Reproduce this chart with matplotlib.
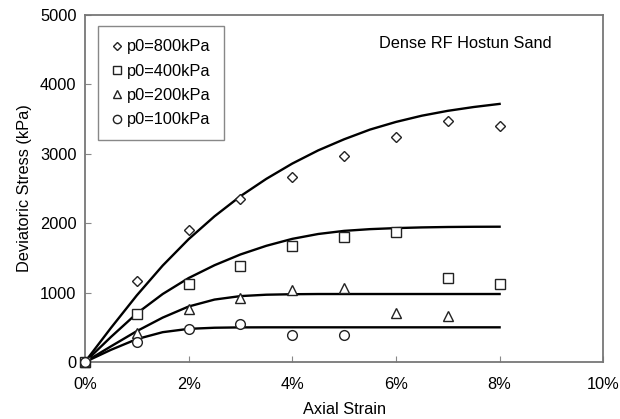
# -------------------------------------------------------------------------------------
# Library
import matplotlib
matplotlib.use('Agg')
import matplotlib.pyplot as plt
from matplotlib.ticker import FuncFormatter
# -------------------------------------------------------------------------------------


# -------------------------------------------------------------------------------------
# Data (axial strain in %, deviatoric stress in kPa)
strain_test = [0, 1, 2, 3, 4, 5, 6, 7, 8]
q_800_test = [0, 1170, 1900, 2350, 2670, 2970, 3250, 3480, 3400]
q_400_test = [0, 690, 1120, 1380, 1675, 1795, 1870, 1205, 1120]
strain_200_test = [0, 1, 2, 3, 4, 5, 6, 7]
q_200_test = [0, 415, 760, 925, 1045, 1060, 710, 665]
strain_100_test = [0, 1, 2, 3, 4, 5]
q_100_test = [0, 285, 475, 545, 390, 390]

strain_model = [0, 0.5, 1, 1.5, 2, 2.5, 3, 3.5, 4, 4.5, 5, 5.5, 6, 6.5, 7, 7.5, 8]
q_800_model = [0, 490, 960, 1390, 1770, 2100, 2390, 2640, 2860, 3050, 3210, 3350,
               3460, 3550, 3620, 3675, 3720]
q_400_model = [0, 360, 700, 980, 1210, 1395, 1550, 1675, 1775, 1845, 1890, 1915,
               1930, 1940, 1946, 1949, 1950]
q_200_model = [0, 225, 445, 640, 800, 900, 950, 970, 977, 980, 980, 980,
               980, 980, 980, 980, 980]
q_100_model = [0, 175, 330, 430, 478, 494, 499, 500, 500, 500, 500, 500,
               500, 500, 500, 500, 500]

labels = ['p0=800kPa', 'p0=400kPa', 'p0=200kPa', 'p0=100kPa']
x_ticks = [0, 2, 4, 6, 8, 10]
y_ticks = [0, 1000, 2000, 3000, 4000, 5000]
# -------------------------------------------------------------------------------------


# -------------------------------------------------------------------------------------
# Figure
plt.rcParams['font.family'] = ['Liberation Sans', 'DejaVu Sans']
fs = 11.8
fig = plt.figure(figsize=(6.2, 4.19), dpi=100)
ax = fig.add_axes([0.137, 0.136, 0.836, 0.828])

for q_model in [q_800_model, q_400_model, q_200_model, q_100_model]:
    ax.plot(strain_model, q_model, color='black', lw=1.7, zorder=2)

mk = dict(ls='none', mfc='white', mec='#222222', mew=1.0, zorder=3, clip_on=False)
h1, = ax.plot(strain_test, q_800_test, marker='D', ms=5, **mk)
h2, = ax.plot(strain_test, q_400_test, marker='s', ms=6.5, **mk)
h3, = ax.plot(strain_200_test, q_200_test, marker='^', ms=7, **mk)
h4, = ax.plot(strain_100_test, q_100_test, marker='o', ms=7, **mk)

ax.set_xlim(0, 10)
ax.set_ylim(0, 5000)
ax.set_xticks(x_ticks)
ax.set_yticks(y_ticks)
ax.xaxis.set_major_formatter(FuncFormatter(lambda v, p: '%d%%' % v))
ax.tick_params(direction='in', length=4, color='#888888', labelsize=fs, pad=11)
ax.tick_params(axis='y', pad=6)
for sp in ax.spines.values():
    sp.set_color('#777777')
    sp.set_linewidth(1.3)

ax.set_xlabel('Axial Strain', fontsize=fs, labelpad=7)
ax.set_ylabel('Deviatoric Stress (kPa)', fontsize=fs, labelpad=6)

ax.text(0.568, 0.905, 'Dense RF Hostun Sand', transform=ax.transAxes, fontsize=fs)

leg = ax.legend([h1, h2, h3, h4], labels, loc='upper left', bbox_to_anchor=(0.025, 0.968),
                borderaxespad=0, fontsize=fs, handlelength=0.7, handletextpad=0.3,
                labelspacing=0.57, borderpad=0.8, markerscale=0.85,
                fancybox=False, framealpha=1)
leg.get_frame().set_edgecolor('#888888')
leg.get_frame().set_linewidth(1.0)

fig.savefig('out.png', dpi=100)
# -------------------------------------------------------------------------------------
